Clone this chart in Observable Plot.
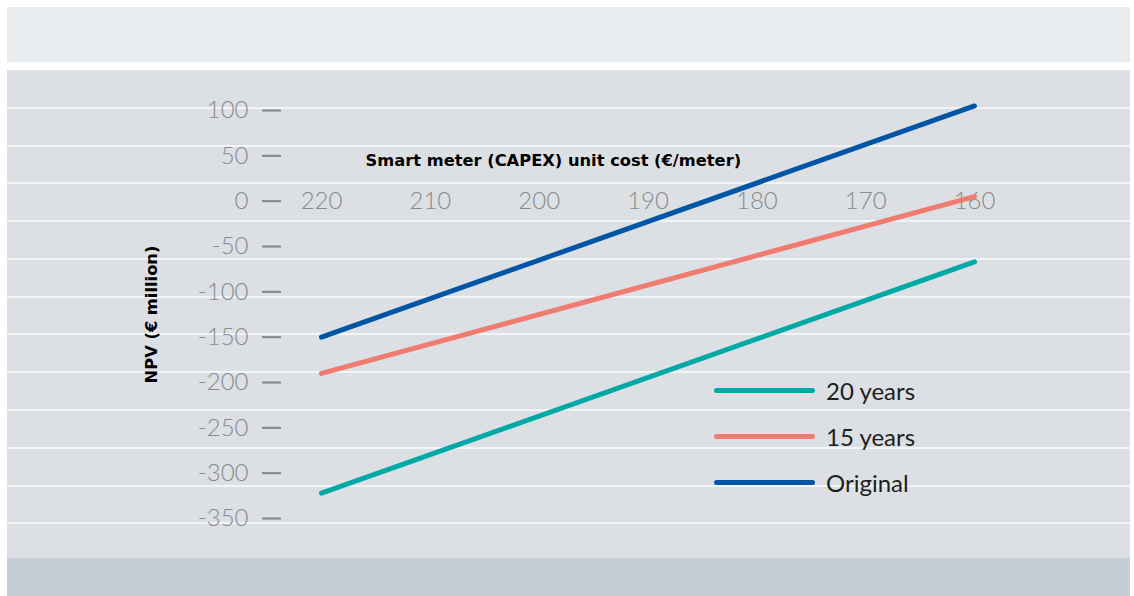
<!DOCTYPE html>
<html>
<head>
<meta charset="utf-8">
<script src="https://cdn.jsdelivr.net/npm/d3@7"></script>
<script src="https://cdn.jsdelivr.net/npm/@observablehq/plot@0.6"></script>
<style>
  html, body { margin: 0; padding: 0; background: #ffffff; }
  #wrap { position: relative; width: 1134px; height: 596px; overflow: hidden; font-family: Lato, "Open Sans", sans-serif; }
  .band-top { position: absolute; left: 7px; top: 7px; width: 1123px; height: 55px; background: #e8ecef; }
  .band-main { position: absolute; left: 7px; top: 70px; width: 1123px; height: 488px; background: #dce0e4; }
  .band-bottom { position: absolute; left: 7px; top: 558px; width: 1123px; height: 38px; background: #c6cdd3; }
  .grid { position: absolute; left: 7px; width: 1123px; height: 2px; background: #f2f4f5; }
  #chart { position: absolute; left: 0; top: 0; }
  .legend { position: absolute; left: 714px; top: 367px; }
  .legend .item { display: flex; align-items: center; height: 46px; }
  .legend .sw { width: 101px; height: 5px; border-radius: 3px; margin-right: 11px; }
  .legend .lab { font-size: 24px; color: #1e1e1e; font-weight: 400; }
</style>
</head>
<body>
<div id="wrap">
  <div class="band-top"></div>
  <div class="band-main"></div>
  <div class="band-bottom"></div>
  <div id="grids"></div>
  <div id="chart"></div>
  <div class="legend" id="legend"></div>
</div>
<script>
// Data
const costs = [220, 160];                 // smart meter unit cost (€/meter)
const original = [-150, 105];             // NPV (€ million)
const years15 = [-190, 5];
const years20 = [-322, -67];
const xTicks = [220, 210, 200, 190, 180, 170, 160];
const yTicks = [100, 50, 0, -50, -100, -150, -200, -250, -300, -350];
const seriesNames = ["20 years", "15 years", "Original"];
const seriesColors = ["#00a9a5", "#f07b70", "#0055a4"];

// decorative background rules
const gridTops = [107, 145, 182, 220, 258, 296, 333, 371, 409, 447, 485, 522];
const gdiv = document.getElementById("grids");
for (const t of gridTops) {
  const d = document.createElement("div");
  d.className = "grid";
  d.style.top = t + "px";
  gdiv.appendChild(d);
}

const rows = [];
const seriesVals = {"20 years": years20, "15 years": years15, "Original": original};
for (const s of seriesNames) {
  costs.forEach((c, i) => rows.push({series: s, cost: c, npv: seriesVals[s][i]}));
}

const titleFont = "'DejaVu Sans', Lato, sans-serif";

const chart = Plot.plot({
  width: 1134,
  height: 596,
  marginLeft: 281,
  marginRight: 160,
  marginTop: 110,
  marginBottom: 78,
  style: {background: "transparent", fontFamily: "Lato, 'Open Sans', sans-serif"},
  x: {domain: [220, 160], insetLeft: 40, axis: null},
  y: {domain: [-350, 100], ticks: yTicks, axis: null},
  color: {domain: seriesNames, range: seriesColors},
  marks: [
    Plot.axisY({ticks: yTicks, tickSize: 19, tickPadding: 14, tickFormat: d => String(d),
      fontSize: 24, fontWeight: 300, color: "#8a8a8a", stroke: "#8a8a8a", strokeWidth: 2.2, label: null}),
    Plot.text(xTicks, {x: d => d, y: 0, text: d => String(d), fontSize: 24, fontWeight: 300, fill: "#8a8a8a"}),
    Plot.line(rows, {x: "cost", y: "npv", z: "series", stroke: "series", strokeWidth: 5, strokeLinecap: "round"}),
    Plot.text(["Smart meter (CAPEX) unit cost (€/meter)"], {x: 198.7, y: 50, dy: 5, text: d => d, fontSize: 16.3, fontWeight: "bold", fontFamily: titleFont, fill: "#000"}),
    Plot.text(["NPV (€ million)"], {frameAnchor: "left", dx: -130, y: -125, text: d => d, rotate: -90, textAnchor: "middle", fontSize: 16.3, fontWeight: "bold", fontFamily: titleFont, fill: "#000"})
  ]
});
document.getElementById("chart").appendChild(chart);

const leg = document.getElementById("legend");
seriesNames.forEach((s, i) => {
  const it = document.createElement("div");
  it.className = "item";
  it.innerHTML = `<div class="sw" style="background:${seriesColors[i]}"></div><div class="lab">${s}</div>`;
  leg.appendChild(it);
});
</script>
</body>
</html>
